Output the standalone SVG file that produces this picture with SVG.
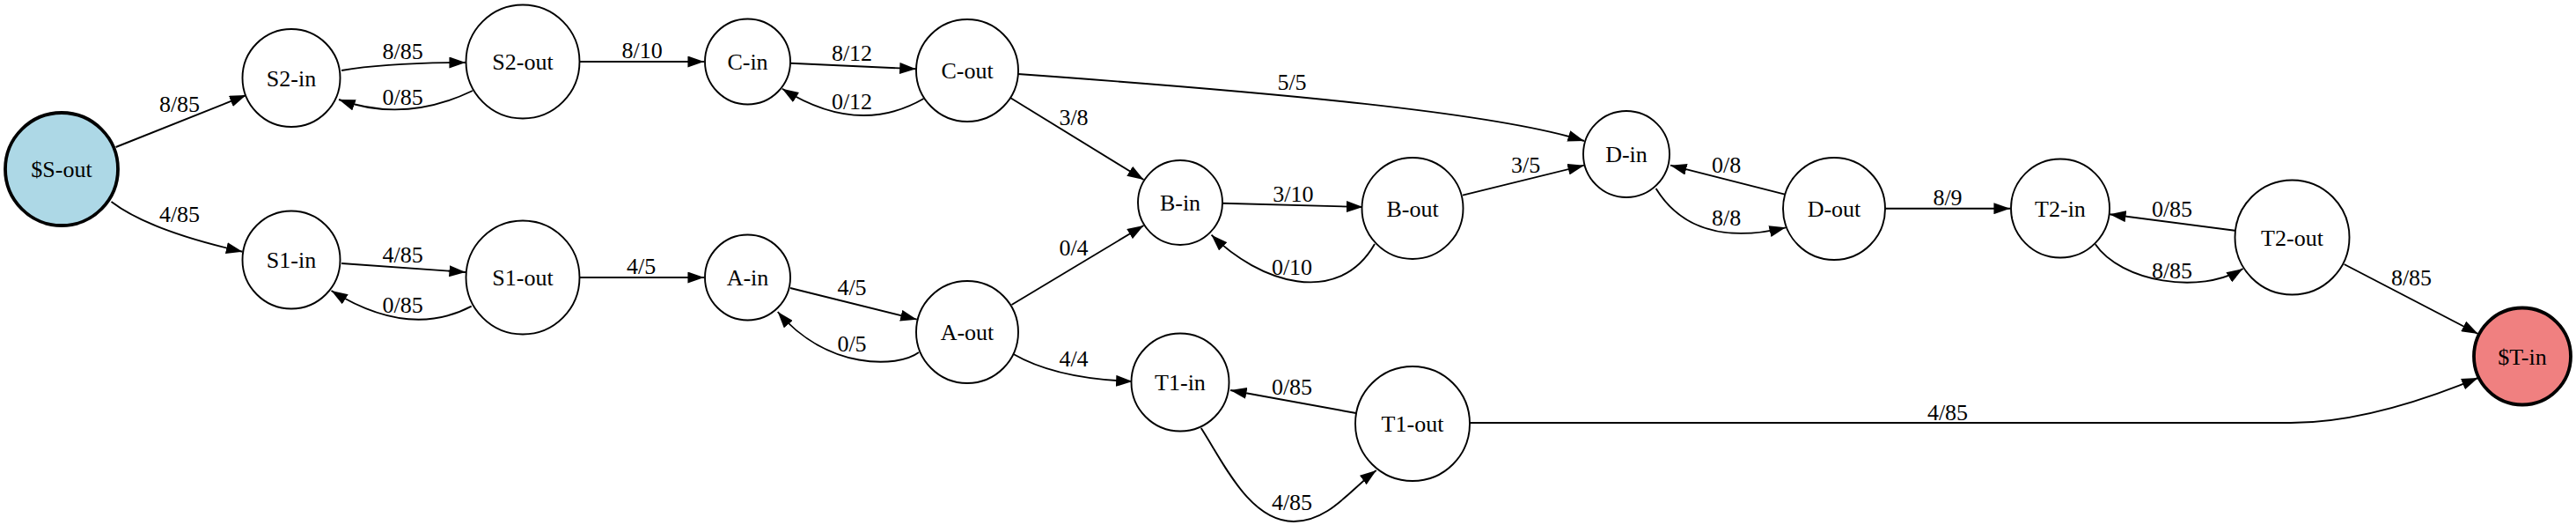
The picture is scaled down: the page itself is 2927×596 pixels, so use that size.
<svg xmlns="http://www.w3.org/2000/svg" width="2927" height="596" viewBox="0 0 2927 596">
<style>
text{font-family:"Liberation Serif","Times New Roman",serif;font-size:26px;text-anchor:middle;fill:#000}
.n ellipse{fill:#fff;stroke:#000;stroke-width:1.9}
.n.b ellipse{stroke-width:3.8}
#edges path{fill:none;stroke:#000;stroke-width:1.9;marker-end:url(#ah)}
</style>
<defs>
<marker id="ah" viewBox="0 0 10 7" markerUnits="userSpaceOnUse" markerWidth="18.7" markerHeight="13" refX="10" refY="3.5" orient="auto">
<path d="M0,0 L10,3.5 L0,7 z" fill="#000"/>
</marker>
</defs>
<rect width="2927" height="596" fill="#fff"/>
<g id="edges">
<path d="M131.6,167 L279.6,108"/>
<path d="M126.5,229 Q170,262 275.5,285.7"/>
<path d="M388,80 Q440,71 529,71"/>
<path d="M537,103 Q460,140 385,113"/>
<path d="M658,70 L800,70"/>
<path d="M388,299 L529,309"/>
<path d="M535.7,347.7 Q465,385 376.5,330"/>
<path d="M658,315 L800,315"/>
<path d="M898,71.7 L1040.8,78.3"/>
<path d="M1049.5,112 Q975,155 888.8,100.7"/>
<path d="M1156.6,84 C1450,105 1700,128 1800,160"/>
<path d="M1148,111 L1299.5,204"/>
<path d="M1389,230.7 L1548.5,235"/>
<path d="M1562,277 C1520,350 1430,320 1376.5,266.7"/>
<path d="M1149.5,346 L1299.5,256"/>
<path d="M898,327 L1041.8,362.7"/>
<path d="M1044,400 C1020,418 940,420 883.7,354"/>
<path d="M1151.5,402 Q1200,430 1286.7,433"/>
<path d="M1364.8,486 C1390,525 1420,592 1470,592 C1510,592 1535,555 1563.8,534"/>
<path d="M1540.8,469 L1398,443"/>
<path d="M1670,480 L2603,480 C2680,480 2760,452 2815.7,429"/>
<path d="M1662,221.7 L1800,187.7"/>
<path d="M1881.6,214 C1910,260 1960,275 2029,258.3"/>
<path d="M2028,220.7 L1898,187.7"/>
<path d="M2141.8,236.7 L2284,236.7"/>
<path d="M2539.4,261.7 L2397,243.3"/>
<path d="M2380.8,277.3 C2410,320 2500,335 2548.6,305"/>
<path d="M2663.6,300 L2815.7,379"/>
</g>
<g id="edge-labels">
<text x="204" y="127">8/85</text>
<text x="204" y="252">4/85</text>
<text x="457.6" y="67">8/85</text>
<text x="457.6" y="119">0/85</text>
<text x="729.6" y="66">8/10</text>
<text x="457.6" y="298">4/85</text>
<text x="457.6" y="354.7">0/85</text>
<text x="728.6" y="310.7">4/5</text>
<text x="968" y="69">8/12</text>
<text x="968" y="124">0/12</text>
<text x="1468" y="101.7">5/5</text>
<text x="1220" y="141.7">3/8</text>
<text x="1469.4" y="229">3/10</text>
<text x="1468" y="312">0/10</text>
<text x="1220" y="290">0/4</text>
<text x="968" y="335">4/5</text>
<text x="968" y="399">0/5</text>
<text x="1220" y="416">4/4</text>
<text x="1468" y="579">4/85</text>
<text x="1468" y="448">0/85</text>
<text x="2213" y="476.7">4/85</text>
<text x="1733.7" y="195.7">3/5</text>
<text x="1961.7" y="256.3">8/8</text>
<text x="1961.7" y="195.7">0/8</text>
<text x="2213" y="233">8/9</text>
<text x="2468" y="245.7">0/85</text>
<text x="2468" y="315.7">8/85</text>
<text x="2740" y="324">8/85</text>
</g>
<g id="S-out" class="n b"><ellipse cx="70" cy="192" rx="64" ry="64" style="fill:#add8e6"/><text x="70" y="201">$S-out</text></g>
<g id="S2-in" class="n"><ellipse cx="331" cy="88.5" rx="55.5" ry="55.5"/><text x="331" y="97.5">S2-in</text></g>
<g id="S2-out" class="n"><ellipse cx="594" cy="70" rx="64.5" ry="64.5"/><text x="594" y="79">S2-out</text></g>
<g id="S1-in" class="n"><ellipse cx="331" cy="295" rx="55.5" ry="55.5"/><text x="331" y="304">S1-in</text></g>
<g id="S1-out" class="n"><ellipse cx="594" cy="315" rx="64.5" ry="64.5"/><text x="594" y="324">S1-out</text></g>
<g id="C-in" class="n"><ellipse cx="849.5" cy="70" rx="48.5" ry="48.5"/><text x="849.5" y="79">C-in</text></g>
<g id="C-out" class="n"><ellipse cx="1099" cy="80" rx="58" ry="58"/><text x="1099" y="89">C-out</text></g>
<g id="A-in" class="n"><ellipse cx="849.5" cy="315" rx="48.5" ry="48.5"/><text x="849.5" y="324">A-in</text></g>
<g id="A-out" class="n"><ellipse cx="1099" cy="377" rx="58" ry="58"/><text x="1099" y="386">A-out</text></g>
<g id="B-in" class="n"><ellipse cx="1341" cy="230" rx="48" ry="48"/><text x="1341" y="239">B-in</text></g>
<g id="B-out" class="n"><ellipse cx="1605" cy="236.5" rx="57.5" ry="57.5"/><text x="1605" y="245.5">B-out</text></g>
<g id="T1-in" class="n"><ellipse cx="1341" cy="434" rx="55.5" ry="55.5"/><text x="1341" y="443">T1-in</text></g>
<g id="T1-out" class="n"><ellipse cx="1605" cy="481" rx="65" ry="65"/><text x="1605" y="490">T1-out</text></g>
<g id="D-in" class="n"><ellipse cx="1848" cy="175" rx="49" ry="49"/><text x="1848" y="184">D-in</text></g>
<g id="D-out" class="n"><ellipse cx="2084" cy="237" rx="58" ry="58"/><text x="2084" y="246">D-out</text></g>
<g id="T2-in" class="n"><ellipse cx="2341" cy="236.5" rx="56" ry="56"/><text x="2341" y="245.5">T2-in</text></g>
<g id="T2-out" class="n"><ellipse cx="2604.5" cy="269.5" rx="65" ry="65"/><text x="2604.5" y="278.5">T2-out</text></g>
<g id="T-in" class="n b"><ellipse cx="2866" cy="404.5" rx="55" ry="55" style="fill:#f08080"/><text x="2866" y="413.5">$T-in</text></g>
</svg>
